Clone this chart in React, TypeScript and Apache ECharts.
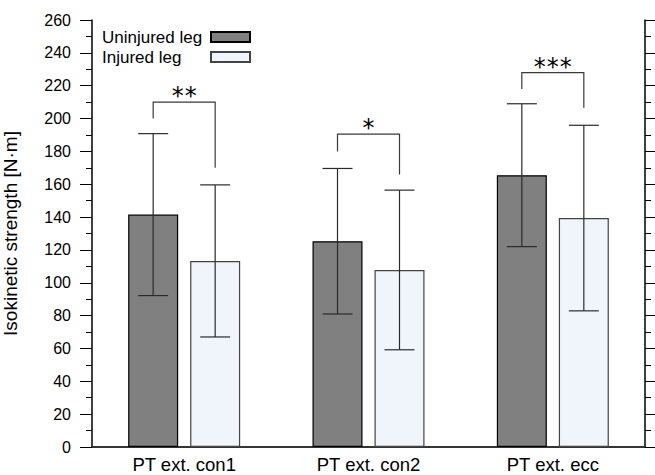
import React, { useEffect, useRef } from "react";
import * as echarts from "echarts";

const categories = ["PT ext. con1", "PT ext. con2", "PT ext. ecc"];
const uninjuredMean = [141.5, 125.3, 165.5];
const uninjuredSD = [49.3, 44.3, 43.5];
const injuredMean = [113.3, 107.8, 139.4];
const injuredSD = [46.3, 48.6, 56.5];
// significance brackets: [category index, bracket top, left leg end, right leg end]
const brackets = [
  [0, 210, 200, 170],
  [1, 190.5, 180, 166],
  [2, 228, 218, 206.5],
];
const bracketStars = ["**", "*", "***"];
const yTicks = { min: 0, max: 260, interval: 20 };

const FONT = "'Liberation Sans', Arial, sans-serif";
const BAR_W = 50;
const BAR_OFFSET = 31;

export default function App() {
  const ref = useRef<HTMLDivElement>(null);
  useEffect(() => {
    const chart = echarts.init(ref.current!, null, { renderer: "svg" });
    const errData = (mean: number[], sd: number[]) =>
      mean.map((m, i) => [i, m - sd[i], m + sd[i]]);
    const errRender = (offset: number) => (params: any, api: any) => {
      const hi = api.coord([api.value(0), api.value(2)]);
      const lo = api.coord([api.value(0), api.value(1)]);
      const x = hi[0] + offset;
      const cap = 15;
      const style = { stroke: "#2a2a2a", lineWidth: 1.2 };
      return {
        type: "group",
        children: [
          { type: "line", shape: { x1: x, y1: hi[1], x2: x, y2: lo[1] }, style },
          { type: "line", shape: { x1: x - cap, y1: hi[1], x2: x + cap, y2: hi[1] }, style },
          { type: "line", shape: { x1: x - cap, y1: lo[1], x2: x + cap, y2: lo[1] }, style },
        ],
      };
    };
    chart.setOption({
      animation: false,
      grid: { left: 92, right: 10, top: 20, bottom: 28, outerBoundsMode: "none", containLabel: false },
      legend: {
        data: ["Uninjured leg", "Injured leg"],
        orient: "vertical",
        left: 102,
        top: 27,
        padding: 0,
        align: "right",
        icon: "rect",
        itemWidth: 39,
        itemHeight: 10,
        itemGap: 0,
        formatter: "{a|{name}}",
        textStyle: {
          fontFamily: FONT,
          fontSize: 17,
          color: "#000",
          lineHeight: 20,
          rich: {
            a: { width: 104, align: "left", fontFamily: FONT, fontSize: 17, lineHeight: 20, color: "#000" },
          },
        },
      },
      xAxis: [
        {
          type: "category",
          data: categories,
          axisLine: { lineStyle: { color: "#000", width: 1.5 } },
          axisTick: { length: 11, lineStyle: { color: "#666" } },
          axisLabel: { fontFamily: FONT, fontSize: 18.5, lineHeight: 17, color: "#000", margin: 9 },
        },
        {
          type: "category",
          data: categories,
          position: "top",
          axisLine: { lineStyle: { color: "#333", width: 1.5 } },
          axisTick: { show: false },
          axisLabel: { show: false },
        },
      ],
      yAxis: [
        {
          type: "value",
          min: yTicks.min,
          max: yTicks.max,
          interval: yTicks.interval,
          name: "Isokinetic strength [N·m]",
          nameLocation: "middle",
          nameGap: 72,
          nameTextStyle: { fontFamily: FONT, fontSize: 19, color: "#000" },
          axisLine: { show: true, lineStyle: { color: "#000", width: 1.5 } },
          axisTick: { show: true, length: 12, lineStyle: { color: "#000" } },
          minorTick: { show: true, splitNumber: 2, length: 6, lineStyle: { color: "#000" } },
          axisLabel: { fontFamily: FONT, fontSize: 16, color: "#000", margin: 21 },
          splitLine: { show: false },
        },
        {
          type: "value",
          min: yTicks.min,
          max: yTicks.max,
          interval: yTicks.interval,
          position: "right",
          axisLine: { show: true, lineStyle: { color: "#000", width: 1.5 } },
          axisTick: { show: true, length: 10, lineStyle: { color: "#000" } },
          minorTick: { show: true, splitNumber: 2, length: 6, lineStyle: { color: "#000" } },
          axisLabel: { show: false },
          splitLine: { show: false },
        },
      ],
      series: [
        {
          name: "Uninjured leg",
          type: "bar",
          data: uninjuredMean,
          barWidth: BAR_W,
          barGap: "24%",
          itemStyle: { color: "#808080", borderColor: "#000", borderWidth: 1.2 },
        },
        {
          name: "Injured leg",
          type: "bar",
          data: injuredMean,
          barWidth: BAR_W,
          itemStyle: { color: "#eff5fb", borderColor: "#444", borderWidth: 1.2 },
        },
        {
          type: "custom",
          z: 5,
          data: errData(uninjuredMean, uninjuredSD),
          encode: { x: 0, y: [1, 2] },
          renderItem: errRender(-BAR_OFFSET),
        },
        {
          type: "custom",
          z: 5,
          data: errData(injuredMean, injuredSD),
          encode: { x: 0, y: [1, 2] },
          renderItem: errRender(BAR_OFFSET),
        },
        {
          type: "custom",
          z: 6,
          data: brackets,
          encode: { x: 0, y: [1, 2, 3] },
          renderItem: (params: any, api: any) => {
            const c = api.value(0);
            const top = api.coord([c, api.value(1)]);
            const l = api.coord([c, api.value(2)]);
            const r = api.coord([c, api.value(3)]);
            const xl = top[0] - BAR_OFFSET;
            const xr = top[0] + BAR_OFFSET;
            const stars = bracketStars[params.dataIndex];
            const n = stars.length;
            const spacing = 13;
            const children: any[] = [
              {
                type: "polyline",
                shape: { points: [[xl, l[1]], [xl, top[1]], [xr, top[1]], [xr, r[1]]] },
                style: { stroke: "#3a3a3a", lineWidth: 1.2, fill: null },
              },
            ];
            for (let k = 0; k < n; k++) {
              children.push({
                type: "text",
                style: {
                  text: "*",
                  x: top[0] + (k - (n - 1) / 2) * spacing,
                  y: top[1] - 6,
                  align: "center",
                  verticalAlign: "middle",
                  fontFamily: "'DejaVu Sans', sans-serif",
                  fontSize: 24,
                  fill: "#000",
                },
              });
            }
            return { type: "group", children };
          },
        },
      ],
    });
    return () => chart.dispose();
  }, []);
  return (
    <div
      ref={ref}
      style={{ position: "fixed", left: 0, top: 0, width: 655, height: 475, background: "#fff" }}
    />
  );
}
